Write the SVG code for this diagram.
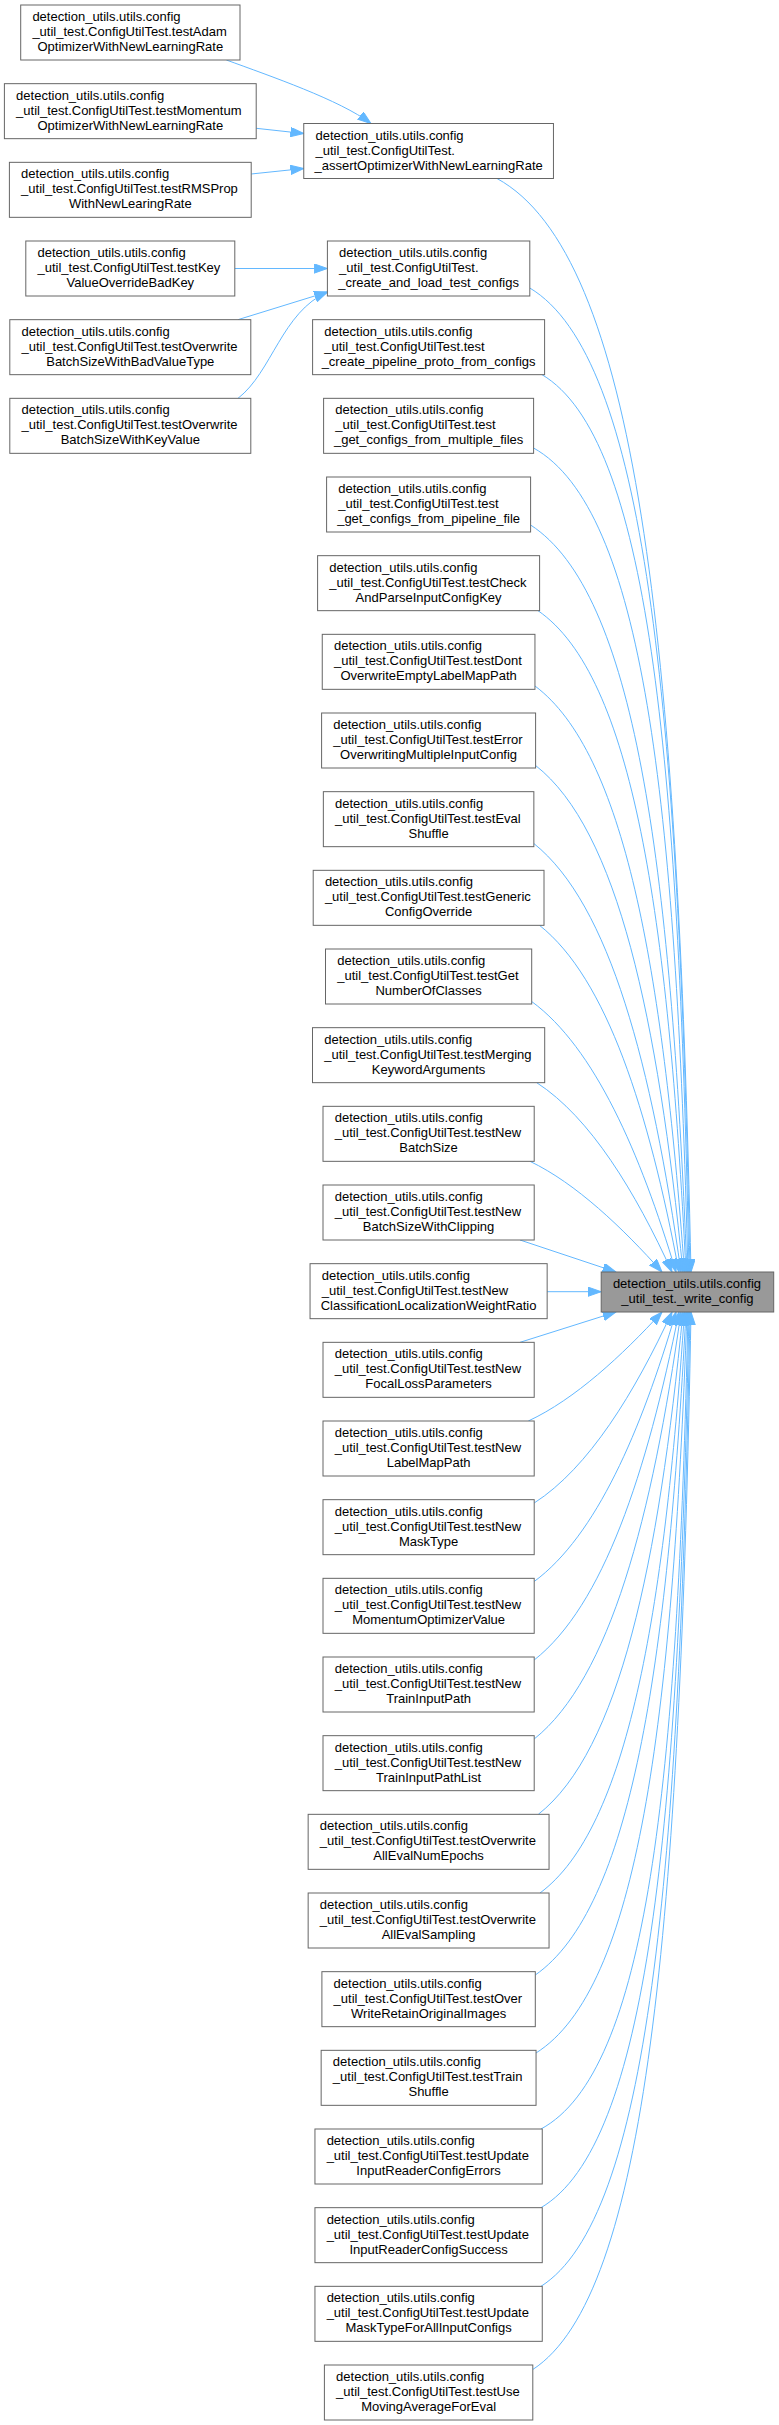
<svg xmlns="http://www.w3.org/2000/svg" width="779" height="2425" viewBox="0 0 779 2425">
<style>
.node rect{fill:#ffffff;stroke:#666666;stroke-width:1}
.main rect{fill:#999999;stroke:#666666;stroke-width:1}
text{font-family:"Liberation Sans",Arial,Helvetica,sans-serif;font-size:13px;fill:#000000}
.c{text-anchor:middle}
.edges path{fill:none;stroke:#63B8FF;stroke-width:1;marker-end:url(#ah)}
</style>
<defs>
<marker id="ah" markerUnits="userSpaceOnUse" markerWidth="14" markerHeight="10" viewBox="0 0 14 10" refX="13.3" refY="4.65" orient="auto">
<path d="M0,0 L13.3,4.65 L0,9.3 z" fill="#63B8FF" stroke="#63B8FF" stroke-width="1"/>
</marker>
</defs>
<rect x="0" y="0" width="779" height="2425" fill="#ffffff"/>
<g class="edges" id="edges">
<path d="M226.4,60 C270,76 340,100 371,123.5"/>
<path d="M256.2,128.3 L303.75,133.5"/>
<path d="M251.2,174 L303.75,168.5"/>
<path d="M234.8,268.5 L327.4,268.5"/>
<path d="M238,319.67 L327.5,292"/>
<path d="M238,398.33 C272,372 282,312 327.5,292"/>
<path d="M497,178.5 C636.7,255 677.4,637.8 691,1272"/>
<path d="M529.8,288 C645.1,356.9 678.8,701.3 690,1272"/>
<path d="M542,374.67 C647.8,437.5 678.7,751.6 689,1272"/>
<path d="M533.6,448 C642.8,509.3 676,799 688,1272"/>
<path d="M530.6,525 C634.3,592.2 670.6,859.7 687,1272"/>
<path d="M538,610.67 C632.6,675.8 668.2,914.2 686,1272"/>
<path d="M535,686 C624.1,752.6 662.5,967.6 684.5,1272"/>
<path d="M535.6,765.5 C617.8,829.8 657.8,1018.2 683,1272"/>
<path d="M533.85,843.5 C609.8,904.2 652,1065.9 681,1272"/>
<path d="M539.5,925.33 C606.8,978.5 648.7,1111 679,1272"/>
<path d="M531.7,1001.5 C594.4,1047.5 640.3,1152.7 676,1272"/>
<path d="M536.7,1082.67 C590.4,1117.4 635.4,1191.9 672,1272"/>
<path d="M530,1161.33 C576.2,1183.5 622.4,1227.7 662,1272"/>
<path d="M520,1240 L616,1272"/>
<path d="M547.15,1291.7 L601.2,1291.7"/>
<path d="M520,1342.33 L616,1312"/>
<path d="M528.3,1421 C575.1,1399.2 621.9,1355.6 662,1312"/>
<path d="M534.2,1503 C588.8,1467.9 634.6,1392.7 672,1312"/>
<path d="M534.2,1581.5 C596.1,1535.8 641.1,1431.1 676,1312"/>
<path d="M534.2,1660 C603.2,1605.8 646.9,1472.6 679,1312"/>
<path d="M534.2,1739 C609.9,1678.5 652.1,1517.4 681,1312"/>
<path d="M538.3,1814.33 C619.3,1750.9 658.5,1564.3 683,1312"/>
<path d="M540,1893 C627.2,1828.5 663.9,1616 684.5,1312"/>
<path d="M535.3,1975 C630.8,1908.4 667.3,1668.6 686,1312"/>
<path d="M536,2053 C637.7,1989 672.1,1725 687,1312"/>
<path d="M541,2129 C646.8,2071.8 677.7,1785.9 688,1312"/>
<path d="M541,2207.67 C647.6,2145 678.6,1831.5 689,1312"/>
<path d="M541,2286.33 C648.3,2218.1 679.6,1877.1 690,1312"/>
<path d="M532.8,2369.5 C646.7,2295.5 679.9,1925.3 691,1312"/>
</g>
<g id="node-main" class="main"><rect x="601.2" y="1272" width="172.5" height="40"/><text x="612.9" y="1288">detection_utils.utils.config</text><text class="c" x="687.45" y="1303">_util_test._write_config</text></g>
<g id="node-testAdamOptimizerWithNewLearningRate" class="node"><rect x="20.7" y="5" width="219.3" height="55"/><text x="32.4" y="21">detection_utils.utils.config</text><text x="32.4" y="36">_util_test.ConfigUtilTest.testAdam</text><text class="c" x="130.3" y="51">OptimizerWithNewLearningRate</text></g>
<g id="node-testMomentumOptimizerWithNewLearningRate" class="node"><rect x="4.4" y="83.67" width="251.8" height="55"/><text x="16.1" y="99.67">detection_utils.utils.config</text><text x="16.1" y="114.67">_util_test.ConfigUtilTest.testMomentum</text><text class="c" x="130.3" y="129.67">OptimizerWithNewLearningRate</text></g>
<g id="node-testRMSPropWithNewLearingRate" class="node"><rect x="9.4" y="162.33" width="241.8" height="55"/><text x="21.1" y="178.33">detection_utils.utils.config</text><text x="21.1" y="193.33">_util_test.ConfigUtilTest.testRMSProp</text><text class="c" x="130.3" y="208.33">WithNewLearingRate</text></g>
<g id="node-testKeyValueOverrideBadKey" class="node"><rect x="25.8" y="241" width="209" height="55"/><text x="37.5" y="257">detection_utils.utils.config</text><text x="37.5" y="272">_util_test.ConfigUtilTest.testKey</text><text class="c" x="130.3" y="287">ValueOverrideBadKey</text></g>
<g id="node-testOverwriteBatchSizeWithBadValueType" class="node"><rect x="9.8" y="319.67" width="241" height="55"/><text x="21.5" y="335.67">detection_utils.utils.config</text><text x="21.5" y="350.67">_util_test.ConfigUtilTest.testOverwrite</text><text class="c" x="130.3" y="365.67">BatchSizeWithBadValueType</text></g>
<g id="node-testOverwriteBatchSizeWithKeyValue" class="node"><rect x="9.8" y="398.33" width="241" height="55"/><text x="21.5" y="414.33">detection_utils.utils.config</text><text x="21.5" y="429.33">_util_test.ConfigUtilTest.testOverwrite</text><text class="c" x="130.3" y="444.33">BatchSizeWithKeyValue</text></g>
<g id="node-assertOptimizerWithNewLearningRate" class="node"><rect x="303.75" y="123.5" width="249.7" height="55"/><text x="315.45" y="139.5">detection_utils.utils.config</text><text x="315.45" y="154.5">_util_test.ConfigUtilTest.</text><text class="c" x="428.6" y="169.5">_assertOptimizerWithNewLearningRate</text></g>
<g id="node-create_and_load_test_configs" class="node"><rect x="327.4" y="241" width="202.4" height="55"/><text x="339.1" y="257">detection_utils.utils.config</text><text x="339.1" y="272">_util_test.ConfigUtilTest.</text><text class="c" x="428.6" y="287">_create_and_load_test_configs</text></g>
<g id="node-test_create_pipeline_proto_from_configs" class="node"><rect x="312.6" y="319.67" width="232" height="55"/><text x="324.3" y="335.67">detection_utils.utils.config</text><text x="324.3" y="350.67">_util_test.ConfigUtilTest.test</text><text class="c" x="428.6" y="365.67">_create_pipeline_proto_from_configs</text></g>
<g id="node-test_get_configs_from_multiple_files" class="node"><rect x="323.6" y="398.33" width="210" height="55"/><text x="335.3" y="414.33">detection_utils.utils.config</text><text x="335.3" y="429.33">_util_test.ConfigUtilTest.test</text><text class="c" x="428.6" y="444.33">_get_configs_from_multiple_files</text></g>
<g id="node-test_get_configs_from_pipeline_file" class="node"><rect x="326.6" y="477" width="204" height="55"/><text x="338.3" y="493">detection_utils.utils.config</text><text x="338.3" y="508">_util_test.ConfigUtilTest.test</text><text class="c" x="428.6" y="523">_get_configs_from_pipeline_file</text></g>
<g id="node-testCheckAndParseInputConfigKey" class="node"><rect x="317.6" y="555.67" width="222" height="55"/><text x="329.3" y="571.67">detection_utils.utils.config</text><text x="329.3" y="586.67">_util_test.ConfigUtilTest.testCheck</text><text class="c" x="428.6" y="601.67">AndParseInputConfigKey</text></g>
<g id="node-testDontOverwriteEmptyLabelMapPath" class="node"><rect x="322.25" y="634.33" width="212.7" height="55"/><text x="333.95" y="650.33">detection_utils.utils.config</text><text x="333.95" y="665.33">_util_test.ConfigUtilTest.testDont</text><text class="c" x="428.6" y="680.33">OverwriteEmptyLabelMapPath</text></g>
<g id="node-testErrorOverwritingMultipleInputConfig" class="node"><rect x="321.6" y="713" width="214" height="55"/><text x="333.3" y="729">detection_utils.utils.config</text><text x="333.3" y="744">_util_test.ConfigUtilTest.testError</text><text class="c" x="428.6" y="759">OverwritingMultipleInputConfig</text></g>
<g id="node-testEvalShuffle" class="node"><rect x="323.35" y="791.67" width="210.5" height="55"/><text x="335.05" y="807.67">detection_utils.utils.config</text><text x="335.05" y="822.67">_util_test.ConfigUtilTest.testEval</text><text class="c" x="428.6" y="837.67">Shuffle</text></g>
<g id="node-testGenericConfigOverride" class="node"><rect x="313.2" y="870.33" width="230.8" height="55"/><text x="324.9" y="886.33">detection_utils.utils.config</text><text x="324.9" y="901.33">_util_test.ConfigUtilTest.testGeneric</text><text class="c" x="428.6" y="916.33">ConfigOverride</text></g>
<g id="node-testGetNumberOfClasses" class="node"><rect x="325.5" y="949" width="206.2" height="55"/><text x="337.2" y="965">detection_utils.utils.config</text><text x="337.2" y="980">_util_test.ConfigUtilTest.testGet</text><text class="c" x="428.6" y="995">NumberOfClasses</text></g>
<g id="node-testMergingKeywordArguments" class="node"><rect x="312.5" y="1027.67" width="232.2" height="55"/><text x="324.2" y="1043.67">detection_utils.utils.config</text><text x="324.2" y="1058.67">_util_test.ConfigUtilTest.testMerging</text><text class="c" x="428.6" y="1073.67">KeywordArguments</text></g>
<g id="node-testNewBatchSize" class="node"><rect x="323" y="1106.33" width="211.2" height="55"/><text x="334.7" y="1122.33">detection_utils.utils.config</text><text x="334.7" y="1137.33">_util_test.ConfigUtilTest.testNew</text><text class="c" x="428.6" y="1152.33">BatchSize</text></g>
<g id="node-testNewBatchSizeWithClipping" class="node"><rect x="323" y="1185" width="211.2" height="55"/><text x="334.7" y="1201">detection_utils.utils.config</text><text x="334.7" y="1216">_util_test.ConfigUtilTest.testNew</text><text class="c" x="428.6" y="1231">BatchSizeWithClipping</text></g>
<g id="node-testNewClassificationLocalizationWeightRatio" class="node"><rect x="310.05" y="1263.67" width="237.1" height="55"/><text x="321.75" y="1279.67">detection_utils.utils.config</text><text x="321.75" y="1294.67">_util_test.ConfigUtilTest.testNew</text><text class="c" x="428.6" y="1309.67">ClassificationLocalizationWeightRatio</text></g>
<g id="node-testNewFocalLossParameters" class="node"><rect x="323" y="1342.33" width="211.2" height="55"/><text x="334.7" y="1358.33">detection_utils.utils.config</text><text x="334.7" y="1373.33">_util_test.ConfigUtilTest.testNew</text><text class="c" x="428.6" y="1388.33">FocalLossParameters</text></g>
<g id="node-testNewLabelMapPath" class="node"><rect x="323" y="1421" width="211.2" height="55"/><text x="334.7" y="1437">detection_utils.utils.config</text><text x="334.7" y="1452">_util_test.ConfigUtilTest.testNew</text><text class="c" x="428.6" y="1467">LabelMapPath</text></g>
<g id="node-testNewMaskType" class="node"><rect x="323" y="1499.67" width="211.2" height="55"/><text x="334.7" y="1515.67">detection_utils.utils.config</text><text x="334.7" y="1530.67">_util_test.ConfigUtilTest.testNew</text><text class="c" x="428.6" y="1545.67">MaskType</text></g>
<g id="node-testNewMomentumOptimizerValue" class="node"><rect x="323" y="1578.33" width="211.2" height="55"/><text x="334.7" y="1594.33">detection_utils.utils.config</text><text x="334.7" y="1609.33">_util_test.ConfigUtilTest.testNew</text><text class="c" x="428.6" y="1624.33">MomentumOptimizerValue</text></g>
<g id="node-testNewTrainInputPath" class="node"><rect x="323" y="1657" width="211.2" height="55"/><text x="334.7" y="1673">detection_utils.utils.config</text><text x="334.7" y="1688">_util_test.ConfigUtilTest.testNew</text><text class="c" x="428.6" y="1703">TrainInputPath</text></g>
<g id="node-testNewTrainInputPathList" class="node"><rect x="323" y="1735.67" width="211.2" height="55"/><text x="334.7" y="1751.67">detection_utils.utils.config</text><text x="334.7" y="1766.67">_util_test.ConfigUtilTest.testNew</text><text class="c" x="428.6" y="1781.67">TrainInputPathList</text></g>
<g id="node-testOverwriteAllEvalNumEpochs" class="node"><rect x="308.15" y="1814.33" width="240.9" height="55"/><text x="319.85" y="1830.33">detection_utils.utils.config</text><text x="319.85" y="1845.33">_util_test.ConfigUtilTest.testOverwrite</text><text class="c" x="428.6" y="1860.33">AllEvalNumEpochs</text></g>
<g id="node-testOverwriteAllEvalSampling" class="node"><rect x="308.15" y="1893" width="240.9" height="55"/><text x="319.85" y="1909">detection_utils.utils.config</text><text x="319.85" y="1924">_util_test.ConfigUtilTest.testOverwrite</text><text class="c" x="428.6" y="1939">AllEvalSampling</text></g>
<g id="node-testOverWriteRetainOriginalImages" class="node"><rect x="321.9" y="1971.67" width="213.4" height="55"/><text x="333.6" y="1987.67">detection_utils.utils.config</text><text x="333.6" y="2002.67">_util_test.ConfigUtilTest.testOver</text><text class="c" x="428.6" y="2017.67">WriteRetainOriginalImages</text></g>
<g id="node-testTrainShuffle" class="node"><rect x="321.15" y="2050.33" width="214.9" height="55"/><text x="332.85" y="2066.33">detection_utils.utils.config</text><text x="332.85" y="2081.33">_util_test.ConfigUtilTest.testTrain</text><text class="c" x="428.6" y="2096.33">Shuffle</text></g>
<g id="node-testUpdateInputReaderConfigErrors" class="node"><rect x="314.95" y="2129" width="227.3" height="55"/><text x="326.65" y="2145">detection_utils.utils.config</text><text x="326.65" y="2160">_util_test.ConfigUtilTest.testUpdate</text><text class="c" x="428.6" y="2175">InputReaderConfigErrors</text></g>
<g id="node-testUpdateInputReaderConfigSuccess" class="node"><rect x="314.95" y="2207.67" width="227.3" height="55"/><text x="326.65" y="2223.67">detection_utils.utils.config</text><text x="326.65" y="2238.67">_util_test.ConfigUtilTest.testUpdate</text><text class="c" x="428.6" y="2253.67">InputReaderConfigSuccess</text></g>
<g id="node-testUpdateMaskTypeForAllInputConfigs" class="node"><rect x="314.95" y="2286.33" width="227.3" height="55"/><text x="326.65" y="2302.33">detection_utils.utils.config</text><text x="326.65" y="2317.33">_util_test.ConfigUtilTest.testUpdate</text><text class="c" x="428.6" y="2332.33">MaskTypeForAllInputConfigs</text></g>
<g id="node-testUseMovingAverageForEval" class="node"><rect x="324.4" y="2365" width="208.4" height="55"/><text x="336.1" y="2381">detection_utils.utils.config</text><text x="336.1" y="2396">_util_test.ConfigUtilTest.testUse</text><text class="c" x="428.6" y="2411">MovingAverageForEval</text></g>
</svg>
